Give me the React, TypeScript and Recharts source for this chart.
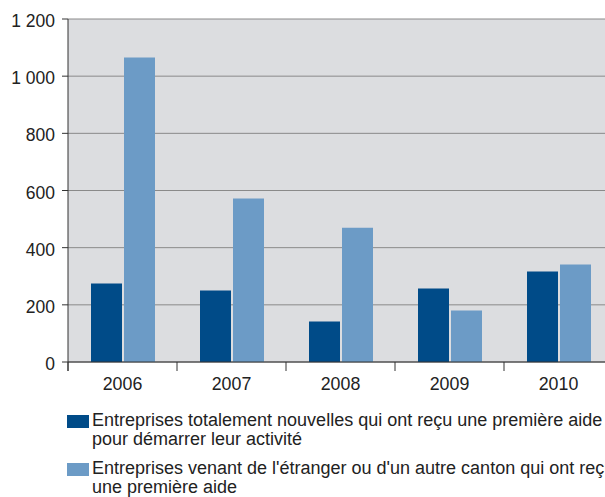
import React from 'react';
import { BarChart, Bar, XAxis, YAxis, CartesianGrid } from 'recharts';

const years = ['2006', '2007', '2008', '2009', '2010'];
const nouvelles = [275, 250, 142, 257, 317];
const venant = [1065, 572, 470, 180, 341];
const yTicks = [0, 200, 400, 600, 800, 1000, 1200];

const legendLabels = [
  ['Entreprises totalement nouvelles qui ont reçu une première aide', 'pour démarrer leur activité'],
  ["Entreprises venant de l'étranger ou d'un autre canton qui ont reçu", 'une première aide'],
];

const DARK = '#004b88';
const LIGHT = '#6c9bc6';
const FONT = 'Liberation Sans, Arial, sans-serif';

const W = 620;
const H = 497;
const PLOT_LEFT = 68;
const PLOT_RIGHT = 613;
const PLOT_BOTTOM = 362;
const BAND = (PLOT_RIGHT - PLOT_LEFT) / years.length;

const data = years.map((year, i) => ({ year, nouvelles: nouvelles[i], venant: venant[i] }));

// 1200 -> "1 200"
const fmt = (v: number) => String(v).replace(/\B(?=(\d{3})+(?!\d))/g, ' ');

const XTick = (props: any) => {
  const { x, payload } = props;
  const left = x - BAND / 2;
  return (
    <g>
      <line x1={left} x2={left} y1={PLOT_BOTTOM} y2={PLOT_BOTTOM + 9} stroke="#333" strokeWidth={1} />
      <text x={x} y={PLOT_BOTTOM + 28} textAnchor="middle" fill="#222" fontSize={17.8} fontFamily={FONT}>
        {payload.value}
      </text>
    </g>
  );
};

const YTick = (props: any) => {
  const { x, y, payload } = props;
  return (
    <text x={x} y={y} dy={8} textAnchor="end" fill="#222" fontSize={17.5} fontFamily={FONT}>
      {fmt(payload.value)}
    </text>
  );
};

export default function App() {
  return (
    <div style={{ position: 'absolute', left: 0, top: 0, width: 605, height: 497, overflow: 'hidden', background: '#fff' }}>
      <BarChart
        width={W}
        height={H}
        data={data}
        margin={{ top: 19, right: W - PLOT_RIGHT, left: 0, bottom: 105 }}
        barGap={2}
      >
        <CartesianGrid vertical={false} fill="#dcdde0" fillOpacity={1} stroke="#8a8a8a" />
        <XAxis
          dataKey="year"
          height={30}
          axisLine={{ stroke: '#333' }}
          tickLine={false}
          tick={<XTick />}
          interval={0}
        />
        <YAxis
          width={PLOT_LEFT}
          domain={[0, 1200]}
          ticks={yTicks}
          axisLine={{ stroke: '#333' }}
          tickLine={{ stroke: '#333' }}
          tickSize={6}
          tickMargin={7}
          tick={<YTick />}
        />
        <Bar dataKey="nouvelles" fill={DARK} barSize={31} isAnimationActive={false} />
        <Bar dataKey="venant" fill={LIGHT} barSize={31} isAnimationActive={false} />
      </BarChart>
      <svg style={{ position: 'absolute', left: PLOT_LEFT - 1, top: PLOT_BOTTOM }} width={2} height={10}>
        <line x1={1} x2={1} y1={0} y2={9} stroke="#333" />
      </svg>
      <div style={{ position: 'absolute', left: 67, top: 411, fontFamily: FONT, fontSize: 18, color: '#222', lineHeight: '19px' }}>
        {legendLabels.map((lines, i) => (
          <div key={i} style={{ position: 'relative', paddingLeft: 25, marginBottom: 10, whiteSpace: 'nowrap' }}>
            <span
              style={{ position: 'absolute', left: 0, top: 4, width: 22, height: 12.5, background: i === 0 ? DARK : LIGHT }}
            />
            {lines.map((l, j) => (
              <div key={j}>{l}</div>
            ))}
          </div>
        ))}
      </div>
    </div>
  );
}
